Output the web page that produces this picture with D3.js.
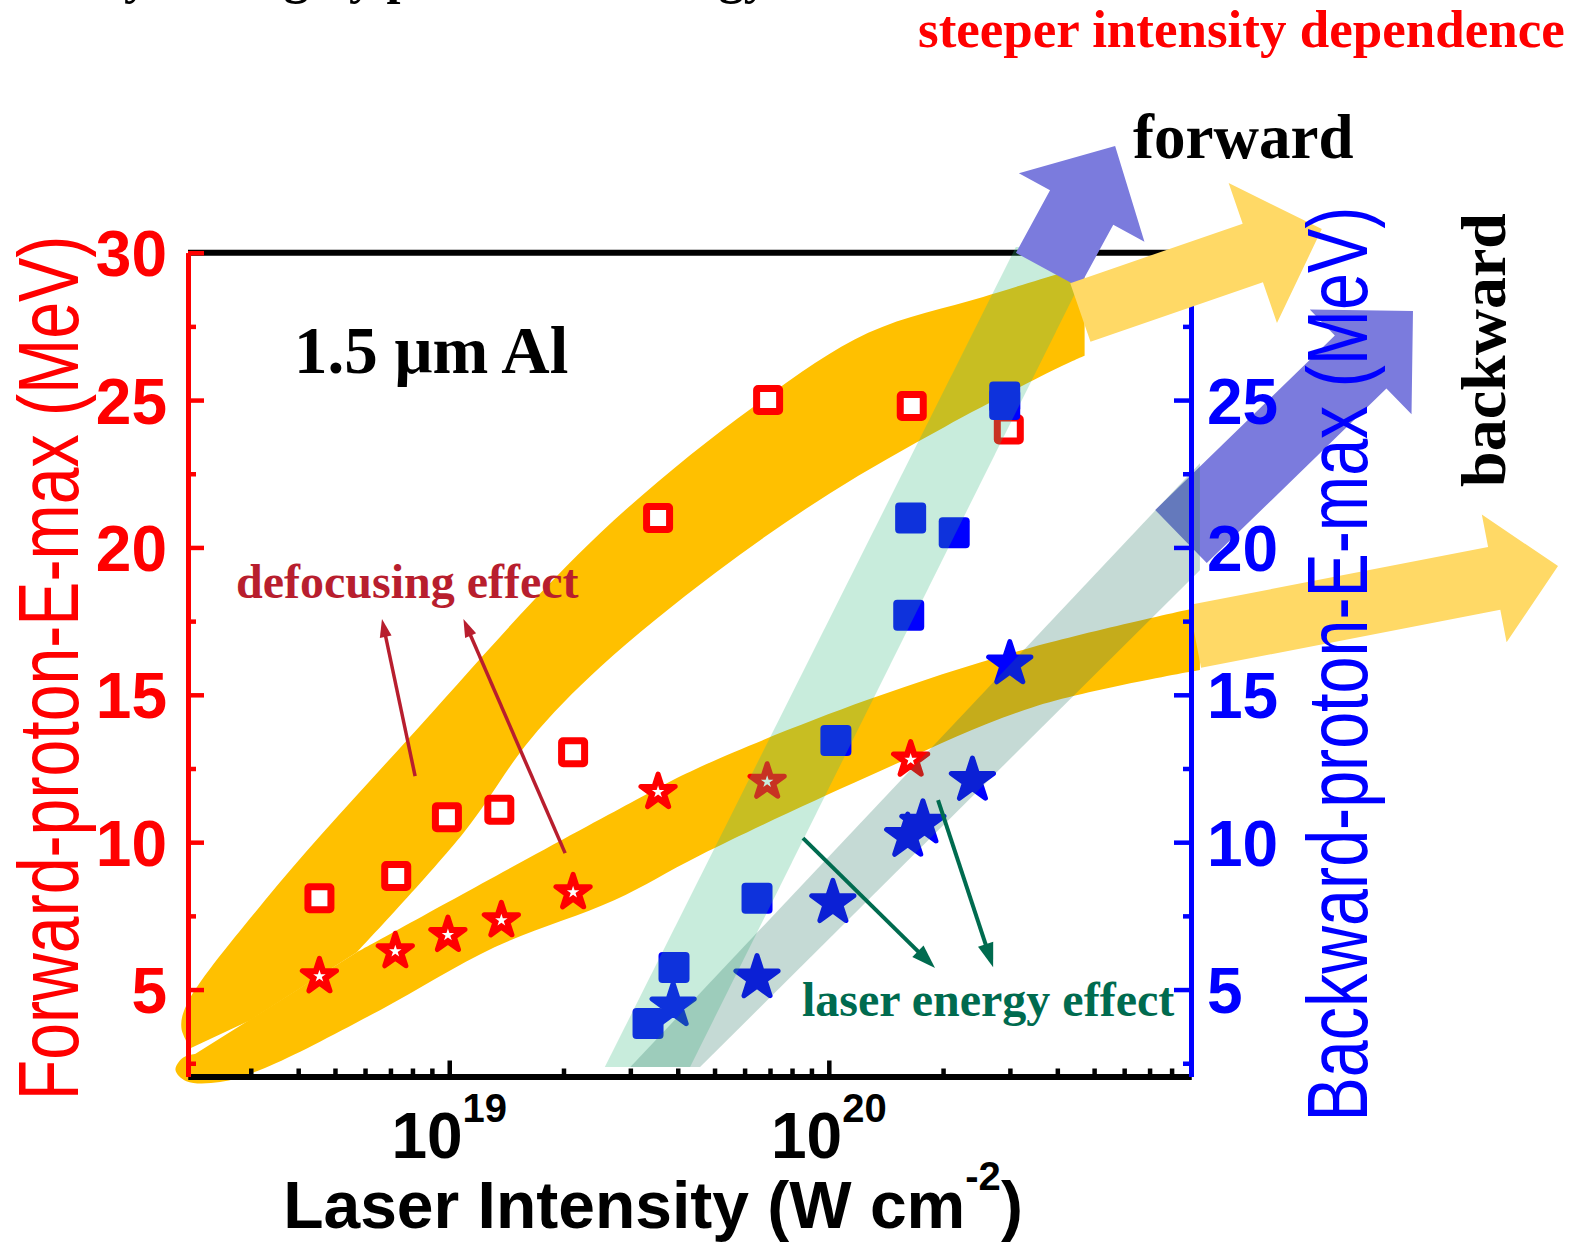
<!DOCTYPE html>
<html>
<head>
<meta charset="utf-8">
<script src="https://cdn.jsdelivr.net/npm/d3@7"></script>
<style>
  html, body { margin: 0; padding: 0; background: #fff; }
  svg { display: block; }
</style>
</head>
<body>
<svg id="chart" width="1585" height="1242"></svg>
<script>
// ---------- axis ticks ----------
const xTickMajor = [1e19, 1e20];
const xTickMajorExp = ["19", "20"];
const xTickMinor = [3e18, 4e18, 5e18, 6e18, 7e18, 8e18, 9e18,
                    2e19, 3e19, 4e19, 5e19, 6e19, 7e19, 8e19, 9e19,
                    2e20, 3e20, 4e20, 5e20, 6e20, 7e20, 8e20];
const yLeftMajor = [5, 10, 15, 20, 25, 30];
const yMinor = [2.5, 7.5, 12.5, 17.5, 22.5, 27.5];
const yRightMajor = [5, 10, 15, 20, 25, 30];
const yRightLabelled = [5, 10, 15, 20, 25];

// ---------- measurements: intensity (W cm^-2) and max proton energy (MeV) ----------
// forward, open squares
const fwdSquareI = [4.55e18, 7.25e18, 9.86e18, 1.355e19, 2.12e19, 3.55e19, 6.92e19, 1.654e20, 2.98e20];
const fwdSquareE = [8.1, 8.85, 10.85, 11.1, 13.05, 21.0, 25.0, 24.8, 24.0];
// forward, stars
const fwdStarI = [4.55e18, 7.21e18, 9.92e18, 1.372e19, 2.12e19, 3.55e19, 6.88e19, 1.643e20];
const fwdStarE = [5.45, 6.3, 6.85, 7.35, 8.3, 11.7, 12.05, 12.8];
// backward, filled squares
const bwdSquareI = [3.34e19, 3.91e19, 6.47e19, 1.044e20, 1.624e20, 1.643e20, 2.14e20, 2.907e20, 2.907e20];
const bwdSquareE = [3.85, 5.75, 8.1, 13.45, 17.7, 21.0, 20.5, 25.1, 24.85];
// backward, filled stars
const bwdStarI = [3.89e19, 6.47e19, 1.025e20, 1.614e20, 1.77e20, 2.39e20, 2.998e20];
const bwdStarE = [4.45, 5.4, 7.95, 10.2, 10.65, 12.1, 16.05];

// ---------- trend bands (intensity, MeV) ----------
const bandFwdUpper = [[2.08e18, 3.01], [1.97e18, 3.69], [2.03e18, 4.47], [3.27e18, 8.03], [7.74e18, 13.46],
                      [2.50e19, 20.49], [6.31e19, 24.76], [1.27e20, 27.28], [2.55e20, 28.50], [4.72e20, 29.55]];
const bandFwdLower = [[4.72e20, 26.50], [4.06e20, 26.12], [2.02e20, 24.09], [1.01e20, 21.85], [5.02e19, 19.13],
                      [2.50e19, 15.94], [1.63e19, 13.46], [1.09e19, 10.31], [5.72e18, 6.27]];
const bandFwdTail = [[5.72e18, 6.27], [2.99e18, 3.96], [2.08e18, 3.01]];

const bandStarHead = [[2.14e18, 2.81], [5.72e18, 6.27]];
const bandStarUpper = [[5.72e18, 6.27], [3.00e19, 11.33], [4.58e19, 12.55], [1.26e20, 14.82], [3.45e20, 16.62], [9.5e20, 17.98]];
const bandStarLower = [[9.5e20, 15.84], [3.45e20, 14.58], [1.26e20, 12.21], [4.58e19, 9.56], [2.72e19, 8.03],
                       [1.32e19, 6.44], [6.57e18, 4.30], [3.27e18, 2.34], [2.49e18, 1.86], [2.03e18, 1.89],
                       [1.90e18, 2.27], [1.98e18, 2.67], [2.14e18, 2.81]];

const bandBwdSquare = [[2.57e19, 2.37], [4.31e19, 2.37], [5.12e20, 30.19], [3.11e20, 30.19]];
const bandBwdStar = [[3.00e19, 2.37], [4.58e19, 2.37], [9.5e20, 19.23], [9.5e20, 22.86]];

// ---------- trend arrows: [tail, tip] ----------
const arrowFwdSteep = [[3.77e20, 29.41], [5.68e20, 33.62]];
const arrowBwdSteep = [[8.47e20, 20.37], [3.46e21, 28.02]];
const arrowFwdTrend = [[4.60e20, 27.97], [1.99e21, 30.80]];
const arrowBwdTrend = [[9.22e20, 16.98], [8.34e21, 19.37]];

// ---------- annotation pointers: [from, to] ----------
const defocusPointers = [[[8.13e18, 12.24], [6.65e18, 17.57]], [[2.02e19, 9.63], [1.09e19, 17.57]]];
const energyPointers = [[[8.55e19, 10.14], [1.905e20, 5.73]], [[1.94e20, 11.43], [2.71e20, 5.76]]];

// ---------- setup ----------
const SANS = "'Liberation Sans', Arial, Helvetica, sans-serif";
const SERIF = "'Liberation Serif', 'Times New Roman', Times, serif";
const ORANGE = "#FFC000", LIGHTYELLOW = "#FFD966", LAVENDER = "#7B7BDD";
const RED = "#FF0000", BLUE = "#0000FF";

const svg = d3.select("#chart");
const x = d3.scaleLog().domain([2.05e18, 9e20]).range([188, 1191]);
const y = d3.scaleLinear().domain([2.05, 30]).range([1076.5, 252.7]);
const yR = d3.scaleLinear().domain([2.05, 30]).range([1076.5, 252.7]);

const P = d => [x(d[0]), y(d[1])];
const seg = (pts, curve) => d3.line().curve(curve)(pts.map(P));
const joinSegs = (...parts) => parts.map((p, i) => i ? p.replace(/^M/, "L") : p).join("") + "Z";

function blockArrow(tail, tip, shaftW, headW, headL) {
  const [x0, y0] = P(tail), [x1, y1] = P(tip);
  const L = Math.hypot(x1 - x0, y1 - y0);
  const ux = (x1 - x0) / L, uy = (y1 - y0) / L, px = -uy, py = ux;
  const bx = x1 - ux * headL, by = y1 - uy * headL;
  const pts = [
    [x0 + px * shaftW / 2, y0 + py * shaftW / 2],
    [bx + px * shaftW / 2, by + py * shaftW / 2],
    [bx + px * headW / 2, by + py * headW / 2],
    [x1, y1],
    [bx - px * headW / 2, by - py * headW / 2],
    [bx - px * shaftW / 2, by - py * shaftW / 2],
    [x0 - px * shaftW / 2, y0 - py * shaftW / 2]
  ];
  return d3.line()(pts) + "Z";
}

function pointer(g, from, to, color, lw, headL, headW) {
  const [x0, y0] = P(from), [x1, y1] = P(to);
  const L = Math.hypot(x1 - x0, y1 - y0);
  const ux = (x1 - x0) / L, uy = (y1 - y0) / L;
  const bx = x1 - ux * headL, by = y1 - uy * headL;
  g.append("line").attr("x1", x0).attr("y1", y0).attr("x2", bx + ux * 3).attr("y2", by + uy * 3)
    .attr("stroke", color).attr("stroke-width", lw);
  g.append("path")
    .attr("d", d3.line()([[x1, y1], [bx - uy * headW / 2, by + ux * headW / 2], [bx + uy * headW / 2, by - ux * headW / 2]]) + "Z")
    .attr("fill", color);
}

// ---------- heading line running above the top edge ----------
svg.append("text").attr("x", -40).attr("y", -7.5)
  .attr("font-family", SERIF).attr("font-weight", "bold").attr("font-size", 50).attr("fill", "#000")
  .text("Intensity scaling by pulse laser energy");

// ---------- forward trend bands (opaque) ----------
const gBands = svg.append("g");
gBands.append("path")
  .attr("d", joinSegs(seg(bandFwdUpper, d3.curveCatmullRom), seg(bandFwdLower, d3.curveCatmullRom), seg(bandFwdTail, d3.curveLinear)))
  .attr("fill", ORANGE);
gBands.append("path")
  .attr("d", joinSegs(seg(bandStarHead, d3.curveLinear), seg(bandStarUpper, d3.curveCatmullRom), seg(bandStarLower, d3.curveCatmullRom)))
  .attr("fill", ORANGE);

// ---------- frame lines (top and bottom) ----------
svg.append("line").attr("x1", 188).attr("x2", 1191).attr("y1", 252.7).attr("y2", 252.7)
  .attr("stroke", "#000").attr("stroke-width", 6);

const gxMinor = svg.append("g").attr("transform", `translate(0,${y.range()[0]})`)
  .call(d3.axisBottom(x).tickValues(xTickMinor).tickSize(-8).tickSizeOuter(0).tickFormat(""));
const gxMajor = svg.append("g").attr("transform", `translate(0,${y.range()[0]})`)
  .call(d3.axisBottom(x).tickValues(xTickMajor).tickSize(-16).tickSizeOuter(0).tickFormat(""));
[gxMinor, gxMajor].forEach(g => {
  g.select(".domain").attr("stroke", "#000").attr("stroke-width", 6);
  g.selectAll(".tick line").attr("stroke", "#000").attr("stroke-width", 4.5);
});

// x tick labels as powers of ten
xTickMajor.forEach((v, i) => {
  const t = svg.append("text").attr("x", x(v)).attr("y", 1158)
    .attr("text-anchor", "middle").attr("font-family", SANS).attr("font-weight", "bold")
    .attr("font-size", 64).attr("fill", "#000");
  t.append("tspan").text("10");
  t.append("tspan").attr("font-size", 40).attr("dy", -36).text(xTickMajorExp[i]);
});

// ---------- markers ----------
const gMarks = svg.append("g");
const fwdSq = d3.zip(fwdSquareI, fwdSquareE);
gMarks.selectAll("rect.fsq").data(fwdSq).join("rect").attr("class", "fsq")
  .attr("x", d => x(d[0]) - 11.5).attr("y", d => y(d[1]) - 11.5)
  .attr("width", 23).attr("height", 23).attr("rx", 1.5)
  .attr("fill", "#fff").attr("stroke", RED).attr("stroke-width", 7);

const fwdSt = d3.zip(fwdStarI, fwdStarE);
gMarks.selectAll("path.fst").data(fwdSt).join("path").attr("class", "fst")
  .attr("d", d3.symbol(d3.symbolStar, 364))
  .attr("transform", d => `translate(${x(d[0])},${y(d[1])})`)
  .attr("fill", RED).attr("stroke", RED).attr("stroke-width", 5).attr("stroke-linejoin", "round");
gMarks.selectAll("path.fstc").data(fwdSt).join("path").attr("class", "fstc")
  .attr("d", d3.symbol(d3.symbolStar, 48))
  .attr("transform", d => `translate(${x(d[0])},${y(d[1])})`)
  .attr("fill", "#fff");

const bwdSq = d3.zip(bwdSquareI, bwdSquareE);
gMarks.selectAll("rect.bsq").data(bwdSq).join("rect").attr("class", "bsq")
  .attr("x", d => x(d[0]) - 15.5).attr("y", d => yR(d[1]) - 15.5)
  .attr("width", 31).attr("height", 31).attr("rx", 4)
  .attr("fill", BLUE);

const bwdSt = d3.zip(bwdStarI, bwdStarE);
gMarks.selectAll("path.bst").data(bwdSt).join("path").attr("class", "bst")
  .attr("d", d3.symbol(d3.symbolStar, 553))
  .attr("transform", d => `translate(${x(d[0])},${yR(d[1])})`)
  .attr("fill", BLUE).attr("stroke", BLUE).attr("stroke-width", 5).attr("stroke-linejoin", "round");

// ---------- backward trend bands (translucent) and lavender arrows ----------
svg.append("path").attr("d", d3.line()(bandBwdSquare.map(P)) + "Z")
  .attr("fill", "rgb(51,185,125)").attr("fill-opacity", 0.27);

svg.append("path").attr("d", blockArrow(arrowFwdSteep[0], arrowFwdSteep[1], 72, 143, 70)).attr("fill", LAVENDER);
svg.append("path").attr("d", blockArrow(arrowBwdSteep[0], arrowBwdSteep[1], 74, 146, 73)).attr("fill", LAVENDER);

svg.append("path").attr("d", d3.line()(bandBwdStar.map(P)) + "Z")
  .attr("fill", "rgb(40,120,100)").attr("fill-opacity", 0.27);

// lower light-yellow trend arrow
svg.append("path").attr("d", blockArrow(arrowBwdTrend[0], arrowBwdTrend[1], 64, 130, 65)).attr("fill", LIGHTYELLOW);

// ---------- left axis (forward) ----------
const gyLMinor = svg.append("g").attr("transform", `translate(${x.range()[0]},0)`)
  .call(d3.axisLeft(y).tickValues(yMinor).tickSize(-8).tickSizeOuter(0).tickFormat(""));
const gyL = svg.append("g").attr("transform", `translate(${x.range()[0]},0)`)
  .call(d3.axisLeft(y).tickValues(yLeftMajor).tickSize(-16).tickSizeOuter(0).tickPadding(21).tickFormat(d3.format("d")));
[gyLMinor, gyL].forEach(g => {
  g.select(".domain").attr("stroke", RED).attr("stroke-width", 5);
  g.selectAll(".tick line").attr("stroke", RED).attr("stroke-width", 4.5);
});
gyL.selectAll(".tick text").attr("fill", RED).attr("font-family", SANS).attr("font-weight", "bold")
  .attr("font-size", 64).attr("dy", "0.36em");

// ---------- right axis (backward) ----------
const gyRMinor = svg.append("g").attr("transform", `translate(${x.range()[1]},0)`)
  .call(d3.axisRight(yR).tickValues(yMinor).tickSize(-8).tickSizeOuter(0).tickFormat(""));
const gyR = svg.append("g").attr("transform", `translate(${x.range()[1]},0)`)
  .call(d3.axisRight(yR).tickValues(yRightMajor).tickSize(-17).tickSizeOuter(0).tickPadding(16)
    .tickFormat(d => yRightLabelled.includes(d) ? d3.format("d")(d) : ""));
[gyRMinor, gyR].forEach(g => {
  g.select(".domain").attr("stroke", BLUE).attr("stroke-width", 5);
  g.selectAll(".tick line").attr("stroke", BLUE).attr("stroke-width", 4.5);
});
gyR.selectAll(".tick text").attr("fill", BLUE).attr("font-family", SANS).attr("font-weight", "bold")
  .attr("font-size", 64).attr("dy", "0.36em");

// upper light-yellow trend arrow
svg.append("path").attr("d", blockArrow(arrowFwdTrend[0], arrowFwdTrend[1], 62, 148, 73)).attr("fill", LIGHTYELLOW);

// ---------- annotation pointers ----------
const gPtr = svg.append("g");
defocusPointers.forEach(p => pointer(gPtr, p[0], p[1], "#B81E2E", 3.5, 18, 12));
energyPointers.forEach(p => pointer(gPtr, p[0], p[1], "#006B4F", 4, 24, 16));

// ---------- text ----------
svg.append("text").attr("x", 236).attr("y", 598)
  .attr("font-family", SERIF).attr("font-weight", "bold").attr("font-size", 48).attr("fill", "#B81E2E")
  .text("defocusing effect");
svg.append("text").attr("x", 802).attr("y", 1016)
  .attr("font-family", SERIF).attr("font-weight", "bold").attr("font-size", 48).attr("fill", "#006B4F")
  .text("laser energy effect");
svg.append("text").attr("x", 294).attr("y", 373)
  .attr("font-family", SERIF).attr("font-weight", "bold").attr("font-size", 67).attr("fill", "#000")
  .text("1.5 \u03BCm Al");
svg.append("text").attr("x", 1133).attr("y", 158)
  .attr("font-family", SERIF).attr("font-weight", "bold").attr("font-size", 63).attr("fill", "#000")
  .text("forward");
svg.append("text").attr("transform", "translate(1505,350) rotate(-90)").attr("text-anchor", "middle")
  .attr("font-family", SERIF).attr("font-weight", "bold").attr("font-size", 64).attr("fill", "#000")
  .text("backward");
svg.append("text").attr("x", 918).attr("y", 47)
  .attr("font-family", SERIF).attr("font-weight", "bold").attr("font-size", 53).attr("fill", RED)
  .text("steeper intensity dependence");

// axis titles (narrow lettering)
svg.append("text").attr("transform", "translate(78,668) rotate(-90) scale(0.77,1)").attr("text-anchor", "middle")
  .attr("font-family", SANS).attr("font-size", 86).attr("fill", RED)
  .text("Forward-proton-E-max (MeV)");
svg.append("text").attr("transform", "translate(1367,664) rotate(-90) scale(0.772,1)").attr("text-anchor", "middle")
  .attr("font-family", SANS).attr("font-size", 86).attr("fill", BLUE)
  .text("Backward-proton-E-max (MeV)");

const xt = svg.append("text").attr("x", 653).attr("y", 1228).attr("text-anchor", "middle")
  .attr("font-family", SANS).attr("font-weight", "bold").attr("font-size", 66).attr("fill", "#000");
xt.append("tspan").text("Laser Intensity (W cm");
xt.append("tspan").attr("font-size", 40).attr("dy", -38).text("-2");
xt.append("tspan").attr("dy", 38).text(")");
</script>
</body>
</html>
